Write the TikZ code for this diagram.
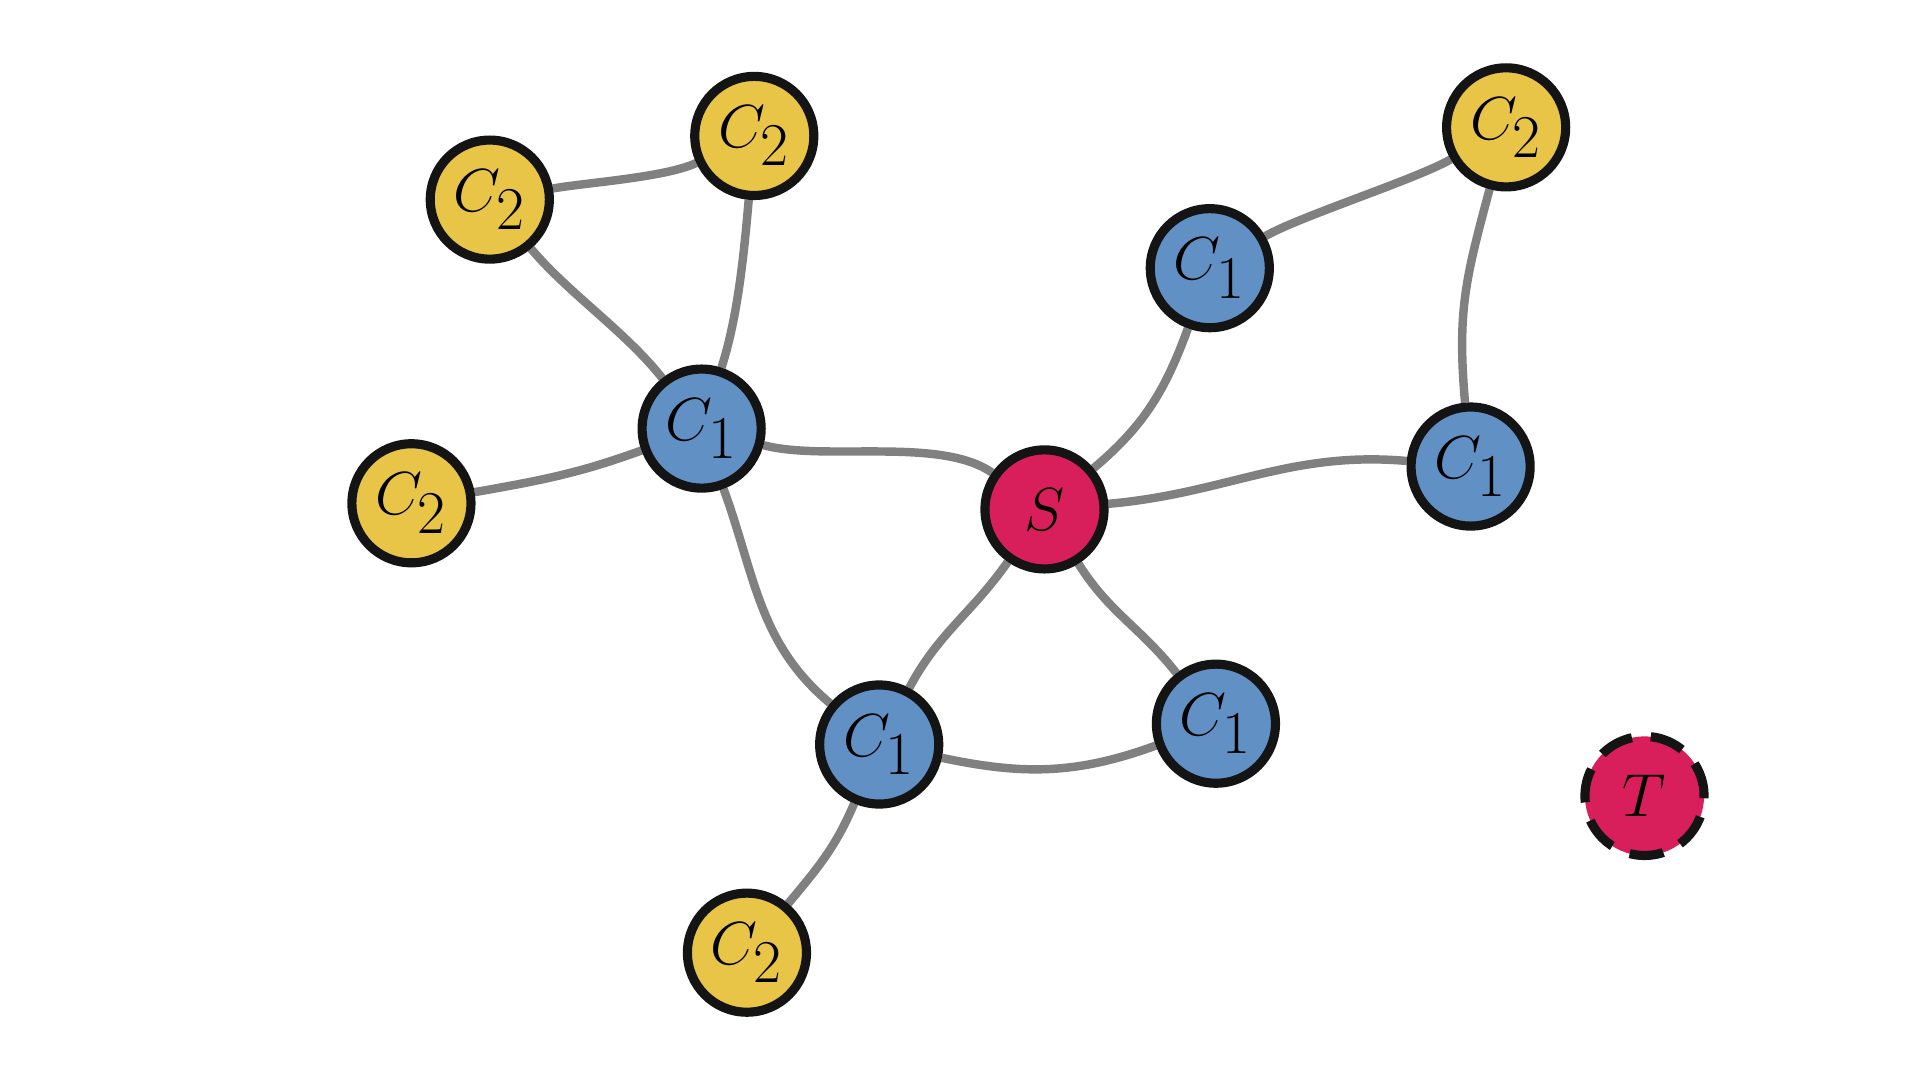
\documentclass[tikz,border=0pt]{standalone}
\usepackage{amsmath,amssymb}
\usetikzlibrary{backgrounds}

\definecolor{nodeblue}{HTML}{6190C4}
\definecolor{nodegold}{HTML}{E8C547}
\definecolor{nodered}{HTML}{D81F5C}
\definecolor{rimblack}{HTML}{141414}
\definecolor{edgegray}{HTML}{808080}

\begin{document}
\begin{tikzpicture}[x=0.012245cm, y=0.012245cm,
	every node/.style={font=\fontsize{17}{19}\selectfont},
	vertex/.style={circle, draw=rimblack, line width=2.6pt, minimum size=1.19cm, inner sep=0pt},
	cone/.style={vertex, fill=nodeblue},
	ctwo/.style={vertex, fill=nodegold},
	term/.style={vertex, fill=nodered},
	link/.style={draw=edgegray, line width=2.4pt}]
	\useasboundingbox (0,0) rectangle (1568,-882);
	% terminals
	\node[term] (s) at (853,-416) {$S$};
	\node[term, dash pattern=on 9.7pt off 5.4pt] (t) at (1343,-650) {$T$};
	% first ring
	\node[cone] (c1hub) at (573,-350) {$C_{\textstyle 1}$};
	\node[cone] (c1top) at (988,-219) {$C_{\textstyle 1}$};
	\node[cone] (c1right) at (1201,-381) {$C_{\textstyle 1}$};
	\node[cone] (c1low) at (718,-608) {$C_{\textstyle 1}$};
	\node[cone] (c1mid) at (993,-591) {$C_{\textstyle 1}$};
	% second ring
	\node[ctwo] (c2tl) at (400,-163) {$C_{\textstyle 2}$};
	\node[ctwo] (c2top) at (616,-111) {$C_{\textstyle 2}$};
	\node[ctwo] (c2tr) at (1230,-104) {$C_{\textstyle 2}$};
	\node[ctwo] (c2left) at (336,-411) {$C_{\textstyle 2}$};
	\node[ctwo] (c2bot) at (610,-778) {$C_{\textstyle 2}$};
	\begin{scope}[on background layer]
		\draw[link] (c1hub) to[out=-15, in=145, looseness=0.7] (s);
		\draw[link] (s) to[out=40, in=250] (c1top);
		\draw[link] (s) to[out=5, in=175] (c1right);
		\draw[link] (s) to[out=235, in=62] (c1low);
		\draw[link] (s) to[out=-58, in=128] (c1mid);
		\draw[link] (c2tl) to[out=-50, in=128, looseness=0.8] (c1hub);
		\draw[link] (c1hub) to[out=72, in=-95, looseness=0.8] (c2top);
		\draw[link] (c1hub) to[out=200, in=10] (c2left);
		\draw[link] (c1hub) to[out=-70, in=140] (c1low);
		\draw[link] (c2tl) to[out=10, in=205, looseness=0.6] (c2top);
		\draw[link] (c1top) to[out=30, in=210, looseness=0.5] (c2tr);
		\draw[link] (c2tr) to[out=-105, in=95, looseness=1.1] (c1right);
		\draw[link] (c1low) to[out=-12, in=200] (c1mid);
		\draw[link] (c1low) to[out=-113, in=50] (c2bot);
	\end{scope}
\end{tikzpicture}
\end{document}
